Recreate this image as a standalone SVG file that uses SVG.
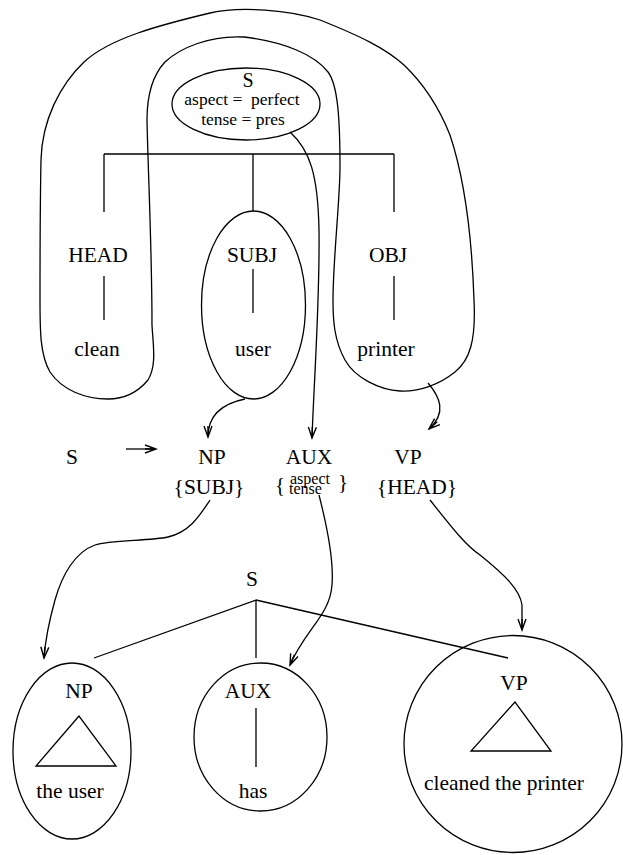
<svg xmlns="http://www.w3.org/2000/svg" width="623" height="855" viewBox="0 0 623 855">
<style>
text{font-family:"Liberation Serif","Times New Roman",serif;fill:#000}
.t{font-size:21.5px;text-anchor:middle}
.m{font-size:17.5px;text-anchor:middle}
.s{font-size:16px}
.ln{fill:none;stroke:#000;stroke-width:1.3}
.ar{fill:none;stroke:#000;stroke-width:1.3;marker-end:url(#arr)}
</style>
<defs>
<marker id="arr" markerUnits="userSpaceOnUse" markerWidth="14" markerHeight="12" viewBox="-12 -6 14 12" refX="0" refY="0" orient="auto">
<path d="M-11,-4 L0,0 L-11,4 M-11,0 L0,0" fill="none" stroke="#000" stroke-width="1.4"/>
</marker>
</defs>
<rect width="623" height="855" fill="#fff"/>

<g id="fstructure">
<path class="ln" d="M152,325 C153,345 157,365 148,380 C138,392 125,399 108,399 C85,399 62,390 50,372 C40,355 40,330 40,300 C40,260 40,210 41,160 C42,120 60,85 84,62 C110,38 160,25 210,13 C240,6 290,10 320,20 C360,36 385,48 404,65 C425,85 440,110 450,135 C465,180 472,240 474,300 C476,340 470,360 455,372 C440,384 420,392 400,391 C380,390 355,378 345,360 C334,340 333,320 333,300 C333,260 340,200 340,167 C340,120 338,85 328,72 C315,55 285,42 244,37 C210,35 180,48 165,62 C150,78 147,100 147,120 C148,170 152,250 152,325 Z"/>
</g>

<g id="node-S-top">
<ellipse class="ln" cx="246" cy="104" rx="74" ry="36"/>
<text class="t" x="248" y="87" style="font-size:20px">S</text>
<text class="m" x="242" y="105" xml:space="preserve">aspect =  perfect</text>
<text class="m" x="243" y="125">tense = pres</text>
</g>

<g id="tree-top">
<path class="ln" d="M104,154 H394 M104,154 V212 M253,154 V211 M394,154 V212"/>
</g>

<g id="node-HEAD">
<text class="t" x="98" y="262">HEAD</text>
<path class="ln" d="M104,276 V320"/>
<text class="t" x="97" y="356">clean</text>
</g>

<g id="node-SUBJ">
<ellipse class="ln" cx="253.5" cy="305" rx="52" ry="94"/>
<text class="t" x="252" y="262">SUBJ</text>
<path class="ln" d="M253,269 V313"/>
<text class="t" x="253" y="356">user</text>
</g>

<g id="node-OBJ">
<text class="t" x="388" y="262">OBJ</text>
<path class="ln" d="M394,276 V320"/>
<text class="t" x="386" y="356">printer</text>
</g>

<g id="rule">
<text class="t" x="72" y="464">S</text>
<text class="t" x="212" y="464">NP</text>
<text class="t" x="309" y="464">AUX</text>
<text class="t" x="408" y="464">VP</text>
<text class="t" x="209" y="494">{SUBJ}</text>
<text class="t" x="417" y="494">{HEAD}</text>
<text style="font-size:21px" x="275" y="492">{</text>
<text class="s" x="290" y="484">aspect</text>
<text class="s" x="289" y="494">tense</text>
<text style="font-size:21px" x="338" y="489">}</text>
</g>

<g id="node-S-bottom">
<text class="t" x="252" y="586">S</text>
<path class="ln" d="M256,600 L94,658 M256,600 V658 M256,600 L508,658"/>
</g>

<g id="node-NP">
<ellipse class="ln" cx="72" cy="751" rx="59" ry="88"/>
<text class="t" x="79" y="698">NP</text>
<path class="ln" d="M79,716 L36,766 H116 Z"/>
<text class="t" x="70" y="798">the user</text>
</g>

<g id="node-AUX">
<ellipse class="ln" cx="260.5" cy="737" rx="66.5" ry="74"/>
<text class="t" x="248" y="698">AUX</text>
<path class="ln" d="M256,708 V767"/>
<text class="t" x="253" y="798">has</text>
</g>

<g id="node-VP">
<ellipse class="ln" cx="513" cy="744" rx="109" ry="108.5"/>
<text class="t" x="514" y="690">VP</text>
<path class="ln" d="M515,702 L471,751 H551 Z"/>
<text class="t" x="504" y="790">cleaned the printer</text>
</g>

<g id="connectors">
<path class="ar" d="M290,132 C310,150 318,175 319,230 C320,300 314,380 312,438"/>
<path class="ar" d="M245,399 C225,403 208,413 208,437"/>
<path class="ar" d="M428,383 C440,397 447,413 429,429"/>
<path class="ar" d="M126,449 L156,449"/>
<path class="ar" d="M210,500 C200,515 190,532 168,537 C150,541 110,540 95,545 C75,552 62,575 55,600 C48,625 45,645 44,658"/>
<path class="ar" d="M319,495 C328,530 334,560 332,585 C330,615 305,630 290,665"/>
<path class="ar" d="M430,500 C450,525 465,545 480,555 C505,575 520,590 522,605 L522,630"/>
</g>
</svg>
